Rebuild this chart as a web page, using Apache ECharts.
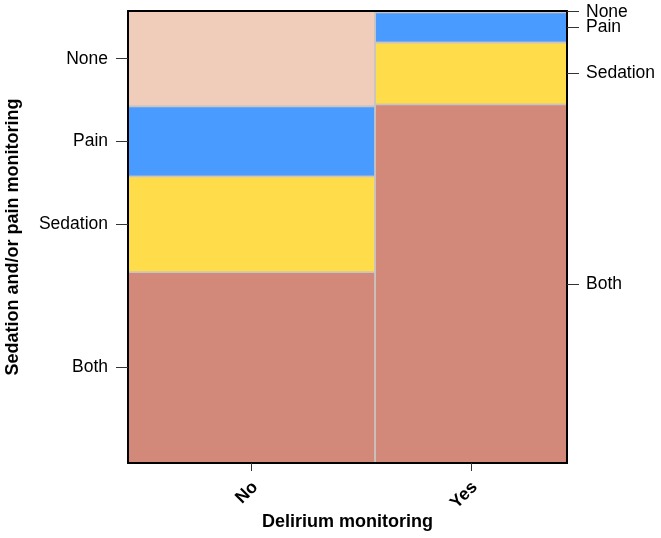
<!DOCTYPE html>
<html>
<head>
<meta charset="utf-8">
<script src="https://cdn.jsdelivr.net/npm/echarts@6/dist/echarts.min.js"></script>
<style>html,body{margin:0;padding:0;background:#fff}#c{width:661px;height:538px}</style>
</head>
<body>
<div id="c"></div>
<script>
// Delirium monitoring categories (columns) and their share of the total
const deliriumCats = ['No', 'Yes'];
const deliriumShare = [0.563, 0.437];
// Sedation and/or pain monitoring levels (stacked top to bottom)
const monitoringCats = ['None', 'Pain', 'Sedation', 'Both'];
// Conditional shares within each delirium column
const sharesNo = [0.211, 0.155, 0.212, 0.422];
const sharesYes = [0.003, 0.067, 0.137, 0.793];
const tileColors = ['#EFCDBA', '#4A9BFF', '#FFDC4A', '#D2897A'];

const columnShares = [sharesNo, sharesYes];
const tiles = [];
const xCenters = [];
const yCenters = [[], []];
let x0 = 0;
deliriumCats.forEach((d, ci) => {
  const x1 = x0 + deliriumShare[ci];
  xCenters.push((x0 + x1) / 2);
  let y0 = 0;
  columnShares[ci].forEach((s, mi) => {
    const y1 = y0 + s;
    tiles.push([x0, x1, y0, y1, mi]);
    yCenters[ci].push((y0 + y1) / 2);
    y0 = y1;
  });
  x0 = x1;
});
// right-hand labels split into two axes so the close None/Pain labels both show
const rightA = [0, 2, 3].map(i => yCenters[1][i]);
const rightB = [1].map(i => yCenters[1][i]);

function nearestLabel(v, centers, names) {
  let best = 0, bd = Infinity;
  centers.forEach((c, i) => { const dd = Math.abs(c - v); if (dd < bd) { bd = dd; best = i; } });
  return names[best];
}

const font = 'Liberation Sans, Arial, Helvetica, sans-serif';
const labelSize = 17.5;
function rightAxis(vals) {
  return {
    type: 'value', min: 0, max: 1, inverse: true, position: 'right', z: 10,
    splitLine: {show: false},
    axisLine: {show: true, onZero: false, lineStyle: {color: '#000', width: 2}},
    axisTick: {show: true, length: 12, lineStyle: {color: '#333', width: 1}, customValues: vals},
    axisLabel: {
      customValues: vals, margin: 19, hideOverlap: false, showMinLabel: true,
      fontFamily: font, fontSize: labelSize, color: '#000',
      formatter: v => nearestLabel(v, yCenters[1], monitoringCats)
    }
  };
}
const chart = echarts.init(document.getElementById('c'), null, {renderer: 'canvas'});
chart.setOption({
  animation: false,
  backgroundColor: '#fff',
  grid: {left: 128, right: 94, top: 11, bottom: 75, containLabel: false, outerBoundsMode: 'none'},
  xAxis: [{
    type: 'value', min: 0, max: 1, position: 'bottom', z: 10,
    name: 'Delirium monitoring', nameLocation: 'middle', nameGap: 50, nameMoveOverlap: false,
    nameTextStyle: {fontFamily: font, fontSize: 18, fontWeight: 'bold', color: '#000'},
    splitLine: {show: false},
    axisLine: {show: true, onZero: false, lineStyle: {color: '#000', width: 2}},
    axisTick: {show: true, length: 8, lineStyle: {color: '#333', width: 1}, customValues: xCenters},
    axisLabel: {
      customValues: xCenters, rotate: 45, margin: 25, padding: [0, -5, 0, 0],
      fontFamily: font, fontSize: labelSize, fontWeight: 'bold', color: '#000',
      formatter: v => nearestLabel(v, xCenters, deliriumCats)
    }
  }, {
    type: 'value', min: 0, max: 1, position: 'top', z: 10,
    splitLine: {show: false},
    axisLine: {show: true, onZero: false, lineStyle: {color: '#000', width: 2}},
    axisTick: {show: false}, axisLabel: {show: false}
  }],
  yAxis: [{
    type: 'value', min: 0, max: 1, inverse: true, position: 'left', z: 10,
    name: 'Sedation and/or pain monitoring', nameLocation: 'middle', nameGap: 106,
    nameTextStyle: {fontFamily: font, fontSize: 18, fontWeight: 'bold', color: '#000'},
    splitLine: {show: false},
    axisLine: {show: true, onZero: false, lineStyle: {color: '#000', width: 2}},
    axisTick: {show: true, length: 12, lineStyle: {color: '#333', width: 1}, customValues: yCenters[0]},
    axisLabel: {
      customValues: yCenters[0], margin: 20, hideOverlap: false,
      fontFamily: font, fontSize: labelSize, color: '#000',
      formatter: v => nearestLabel(v, yCenters[0], monitoringCats)
    }
  }, rightAxis(rightA), rightAxis(rightB)],
  series: [{
    type: 'custom',
    xAxisIndex: 0, yAxisIndex: 0,
    data: tiles,
    renderItem: (params, api) => {
      const p0 = api.coord([api.value(0), api.value(2)]);
      const p1 = api.coord([api.value(1), api.value(3)]);
      return {
        type: 'rect',
        shape: {x: p0[0], y: p0[1], width: p1[0] - p0[0], height: p1[1] - p0[1]},
        style: {fill: tileColors[api.value(4)], stroke: '#C9C4C0', lineWidth: 1.6}
      };
    }
  }]
});
</script>
</body>
</html>
